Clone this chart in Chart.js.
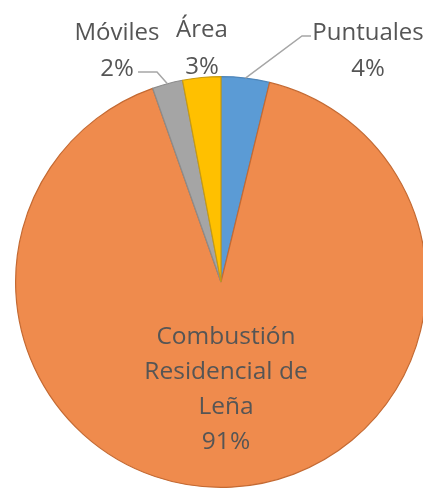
<!DOCTYPE html>
<html>
<head>
<meta charset="utf-8">
<script src="https://cdn.jsdelivr.net/npm/chart.js@4/dist/chart.umd.min.js"></script>
<style>
  html, body { margin: 0; padding: 0; background: #fff; overflow: hidden; }
  #wrap { width: 430px; height: 489px; }
</style>
</head>
<body>
<div id="wrap"><canvas id="pie" width="430" height="489"></canvas></div>
<script>
const categories = ['Puntuales', 'Combustión Residencial de Leña', 'Móviles', 'Área'];
const labelLines = [['Puntuales'], ['Combustión', 'Residencial de', 'Leña'], ['Móviles'], ['Área']];
const shares = [3.8, 90.8, 2.4, 3.0];
const fills = ['#5B9BD5', '#EF8B4D', '#A5A5A5', '#FFC000'];
const borders = ['#4F86B9', '#C46A33', '#8C8C8C', '#C79A10'];

const TEXT = '#555555';
const FONT = '"Open Sans", sans-serif';

// where each label sits: center x, first line y, line gap, font size, leader elbow
const labelLayout = [
  { x: 368, y: 33, gap: 36, size: 24, elbow: [[311, 36], [302, 36]] },
  { x: 226, y: 337, gap: 35, size: 24.5, elbow: null },
  { x: 117, y: 33, gap: 36, size: 24, elbow: [[138, 72], [157, 72]] },
  { x: 202, y: 30, gap: 37, size: 24, elbow: null }
];

const pieLabels = {
  id: 'pieLabels',
  afterDatasetsDraw(chart) {
    const ctx = chart.ctx;
    const arcs = chart.getDatasetMeta(0).data;
    ctx.save();
    arcs.forEach((arc, i) => {
      const lay = labelLayout[i];
      const p = arc.getProps(['x', 'y', 'startAngle', 'endAngle', 'outerRadius'], true);
      if (lay.elbow) {
        const mid = (p.startAngle + p.endAngle) / 2;
        const ax = p.x + p.outerRadius * Math.cos(mid);
        const ay = p.y + p.outerRadius * Math.sin(mid);
        ctx.strokeStyle = '#A6A6A6';
        ctx.lineWidth = 1.5;
        ctx.beginPath();
        ctx.moveTo(lay.elbow[0][0], lay.elbow[0][1]);
        ctx.lineTo(lay.elbow[1][0], lay.elbow[1][1]);
        ctx.lineTo(ax, ay);
        ctx.stroke();
      }
      const lines = labelLines[i].concat([Math.round(shares[i]) + '%']);
      ctx.fillStyle = TEXT;
      ctx.font = lay.size + 'px ' + FONT;
      ctx.textAlign = 'center';
      ctx.textBaseline = 'middle';
      lines.forEach((t, k) => ctx.fillText(t, lay.x, lay.y + k * lay.gap));
    });
    ctx.restore();
  }
};

new Chart(document.getElementById('pie'), {
  type: 'pie',
  data: {
    labels: categories,
    datasets: [{
      data: shares,
      backgroundColor: fills,
      borderColor: borders,
      borderWidth: 1.2
    }]
  },
  options: {
    responsive: false,
    animation: false,
    layout: { padding: { left: 15, right: 3, top: 76, bottom: 1 } },
    plugins: {
      legend: { display: false },
      tooltip: { enabled: false }
    }
  },
  plugins: [pieLabels]
});
</script>
</body>
</html>
